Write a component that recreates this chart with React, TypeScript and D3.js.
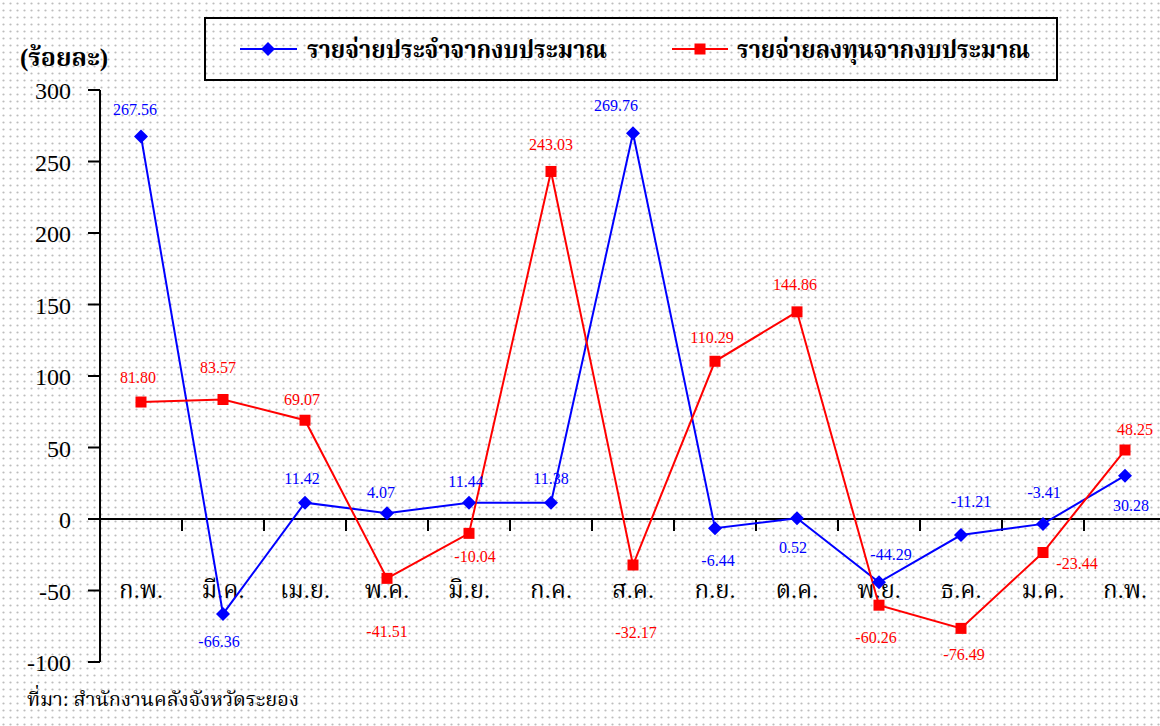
import React from "react";
import * as d3 from "d3";

const categories = ["ก.พ.", "มี.ค.", "เม.ย.", "พ.ค.", "มิ.ย.", "ก.ค.", "ส.ค.", "ก.ย.", "ต.ค.", "พ.ย.", "ธ.ค.", "ม.ค.", "ก.พ."];
const recurrent = [267.56, -66.36, 11.42, 4.07, 11.44, 11.38, 269.76, -6.44, 0.52, -44.29, -11.21, -3.41, 30.28];
const capital = [81.8, 83.57, 69.07, -41.51, -10.04, 243.03, -32.17, 110.29, 144.86, -60.26, -76.49, -23.44, 48.25];
const yTicks = [-100, -50, 0, 50, 100, 150, 200, 250, 300];
const seriesNames = ["รายจ่ายประจำจากงบประมาณ", "รายจ่ายลงทุนจากงบประมาณ"];
const unitLabel = "(ร้อยละ)";
const sourceNote = "ที่มา: สำนักงานคลังจังหวัดระยอง";

// label placement offsets (layout only)
const blueLabelOffsets: [number, number][] = [
  [-6, -21], [-4, 33], [-3, -19], [-6, -15], [-3, -16], [0, -19], [-17, -22],
  [3, 38], [-4, 35], [12, -22], [10, -28], [1, -26], [6, 35],
];
const redLabelOffsets: [number, number][] = [
  [-3, -19], [-5, -26], [-3, -15], [0, 59], [6, 29], [0, -21], [3, 73],
  [-3, -18], [-2, -22], [-3, 38], [3, 32], [34, 16], [10, -15],
];

const W = 1160;
const H = 726;
const serif = "'Liberation Serif', 'Times New Roman', 'Norasi', 'Noto Serif Thai', 'Kinnari', serif";

export default function App() {
  const idx = categories.map((_, i) => i);
  const x = d3.scaleBand<number>().domain(idx).range([100, 100 + 82 * categories.length]).padding(0);
  const y = d3.scaleLinear().domain([-100, 300]).range([662, 90]);
  const cx = (i: number) => (x(i) as number) + x.bandwidth() / 2;
  const line = d3
    .line<number>()
    .x((_, i) => cx(i))
    .y((d) => y(d));

  const blue = "#0000ff";
  const red = "#ff0000";
  const zeroY = y(0);

  const diamond = (px: number, py: number, s = 7) =>
    `M${px},${py - s}L${px + s},${py}L${px},${py + s}L${px - s},${py}Z`;

  return (
    <svg width={W} height={H} style={{ position: "absolute", left: 0, top: 0, display: "block", fontFamily: serif }}>
      <defs>
        <pattern id="dots" width={7} height={7} patternUnits="userSpaceOnUse">
          <rect width={7} height={7} fill="#ffffff" />
          <circle cx={3.5} cy={3.5} r={1.1} fill="#bdbdbd" />
        </pattern>
      </defs>
      <rect x={0} y={0} width={W} height={H} fill="url(#dots)" />

      {/* unit label */}
      <text x={20} y={66} fontSize={25} fontWeight="bold" fill="#000">{unitLabel}</text>

      {/* legend */}
      <rect x={205} y={18} width={852} height={62} fill="none" stroke="#000" strokeWidth={2} />
      <line x1={240} x2={297} y1={49} y2={49} stroke={blue} strokeWidth={2} />
      <path d={diamond(268, 49)} fill={blue} />
      <text x={307} y={58} fontSize={25} fontWeight="bold" fill="#000" textLength={300} lengthAdjust="spacingAndGlyphs">{seriesNames[0]}</text>
      <line x1={672} x2={728} y1={49} y2={49} stroke={red} strokeWidth={2} />
      <rect x={694.5} y={43.5} width={11} height={11} fill={red} />
      <text x={737} y={58} fontSize={25} fontWeight="bold" fill="#000" textLength={293} lengthAdjust="spacingAndGlyphs">{seriesNames[1]}</text>

      {/* y axis */}
      <line x1={100} x2={100} y1={y(-100)} y2={y(300)} stroke="#000" strokeWidth={2} />
      {yTicks.map((t) => (
        <g key={t}>
          <line x1={88} x2={100} y1={y(t)} y2={y(t)} stroke="#000" strokeWidth={2} />
          <text x={71} y={y(t) + 9} fontSize={24} textAnchor="end" fill="#000">{t}</text>
        </g>
      ))}

      {/* zero line and ticks */}
      <line x1={100} x2={W} y1={zeroY} y2={zeroY} stroke="#000" strokeWidth={2} />
      {idx.slice(1).map((i) => (
        <line key={i} x1={x(i) as number} x2={x(i) as number} y1={zeroY} y2={zeroY + 12} stroke="#000" strokeWidth={2} />
      ))}
      {categories.map((c, i) => (
        <text key={i} x={cx(i)} y={598} fontSize={24} textAnchor="middle" fill="#000">{c}</text>
      ))}

      {/* lines */}
      <path d={line(recurrent) || ""} fill="none" stroke={blue} strokeWidth={2} />
      <path d={line(capital) || ""} fill="none" stroke={red} strokeWidth={2} />

      {recurrent.map((v, i) => (
        <path key={"b" + i} d={diamond(cx(i), y(v))} fill={blue} />
      ))}
      {capital.map((v, i) => (
        <rect key={"r" + i} x={cx(i) - 5.5} y={y(v) - 5.5} width={11} height={11} fill={red} />
      ))}

      {/* data labels */}
      {recurrent.map((v, i) => (
        <text key={"bl" + i} x={cx(i) + blueLabelOffsets[i][0]} y={y(v) + blueLabelOffsets[i][1]} fontSize={16} textAnchor="middle" fill={blue}>
          {v.toFixed(2)}
        </text>
      ))}
      {capital.map((v, i) => (
        <text key={"rl" + i} x={cx(i) + redLabelOffsets[i][0]} y={y(v) + redLabelOffsets[i][1]} fontSize={16} textAnchor="middle" fill={red}>
          {v.toFixed(2)}
        </text>
      ))}

      {/* source */}
      <text x={27} y={706} fontSize={20} fill="#000">{sourceNote}</text>
    </svg>
  );
}
